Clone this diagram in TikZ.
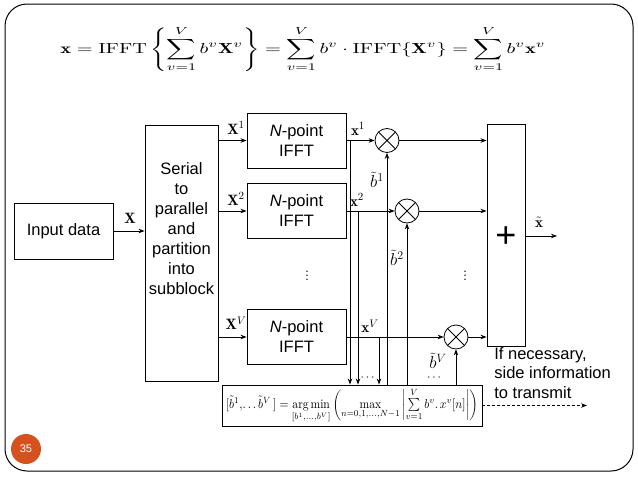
\documentclass[tikz,border=0pt]{standalone}
\usepackage{amsmath}
\usepackage{graphicx}
\usepackage{fontspec}
\setsansfont{Liberation Sans}
\usetikzlibrary{arrows.meta}
\definecolor{numorange}{HTML}{D5511D}
\begin{document}
\begin{tikzpicture}[x=1pt,y=-1pt, line width=0.8pt,
  >={Stealth[length=6pt,width=4.5pt]},
  blk/.style={draw, line width=0.9pt, inner sep=0pt},
  txt/.style={font=\sffamily\fontsize{16.5}{20}\selectfont, align=center, inner sep=0pt},
  mlab/.style={font=\fontsize{15}{18}\selectfont, inner sep=0pt},
  mult/.style={draw, circle, minimum size=24pt, inner sep=0pt,
    path picture={\draw (path picture bounding box.north west)--(path picture bounding box.south east)
      (path picture bounding box.south west)--(path picture bounding box.north east);}}]
\useasboundingbox (0,0) rectangle (638,479);
% slide frame
\draw[line width=1pt, rounded corners=22pt] (5,4) rectangle (633,471);
\node[circle, fill=numorange, minimum size=30pt, inner sep=0pt, text=white,
  font=\sffamily\fontsize{11}{13}\selectfont] (num) at (26,449) {35};
% equation
\node[inner sep=0pt] (eq) at (303,49) {\resizebox*{485pt}{45pt}{$\displaystyle
  \mathbf{x}=\mathrm{IFFT}\left\{\sum_{v=1}^{V} b^v\mathbf{X}^v\right\}
  =\sum_{v=1}^{V} b^v\cdot\mathrm{IFFT}\{\mathbf{X}^v\}
  =\sum_{v=1}^{V} b^v\mathbf{x}^v$}};
% blocks
\node[blk, minimum width=99pt, minimum height=56pt] (in) at (63.5,231) {};
\node[txt] (intext) at (in.center) {Input data};
\node[blk, minimum width=73pt, minimum height=256pt] (sp) at (181.5,253) {};
\node[txt] (sptext) at (181.5,228.5) {Serial\\to\\parallel\\and\\partition\\into\\subblock};
\node[blk, minimum width=99pt, minimum height=55pt, txt] (f1) at (296.5,140.5) {\textit{N}-point\\IFFT};
\node[blk, minimum width=99pt, minimum height=55pt, txt] (f2) at (296.5,211) {\textit{N}-point\\IFFT};
\node[blk, minimum width=99pt, minimum height=55pt, txt] (fV) at (296.5,337) {\textit{N}-point\\IFFT};
\node[mult] (m1) at (387,140.5) {};
\node[mult] (m2) at (407,211) {};
\node[mult] (mV) at (456,337) {};
\node[blk, minimum width=38pt, minimum height=222pt] (plus) at (506,235) {};
\node[font=\sffamily\fontsize{36}{36}\selectfont, inner sep=0pt] (plussign) at (506,237) {+};
\node[blk, minimum width=260pt, minimum height=41pt] (bot) at (352,405.5) {};
\node[inner sep=0pt] (botf) at (352,406) {\resizebox*{252pt}{35pt}{$[\tilde{b}^1,\!\ldots\tilde{b}^V\,] = \mathop{\arg\min}\limits_{[b^1,\ldots,b^V]}
  \left(\max\limits_{n=0,1,\ldots,N-1}\left|\sum\limits_{v=1}^{V} b^v.\,x^v[n]\right|\right)$}};
% input connections
\draw[->] (in.east) -- (in.east -| sp.west);
\node[mlab] (lX) at (130,218) {$\mathbf{X}$};
\draw[->] (sp.east |- f1.west) -- (f1.west);
\draw[->] (sp.east |- f2.west) -- (f2.west);
\draw[->] (sp.east |- fV.west) -- (fV.west);
\node[mlab] (lX1) at (236,128) {$\mathbf{X}^1$};
\node[mlab] (lX2) at (236,199) {$\mathbf{X}^2$};
\node[mlab] (lXV) at (236,323) {$\mathbf{X}^V$};
\node[font=\fontsize{18}{20}\selectfont, inner sep=0pt] (vd1) at (307,273) {$\vdots$};
% outputs to multipliers
\draw[->] (f1.east) -- (m1.west);
\draw[->] (f2.east) -- (m2.west);
\draw[->] (fV.east) -- (mV.west);
\node[mlab] (lx1) at (358,129) {$\mathbf{x}^1$};
\node[mlab] (lx2) at (357,200) {$\mathbf{x}^2$};
\node[mlab] (lxV) at (370,326) {$\mathbf{x}^V$};
% multipliers to adder
\draw[->] (m1.east) -- (m1.east -| plus.west);
\draw[->] (m2.east) -- (m2.east -| plus.west);
\draw[->] (mV.east) -- (mV.east -| plus.west);
\node[font=\fontsize{18}{20}\selectfont, inner sep=0pt] (vd2) at (465,273) {$\vdots$};
\coordinate (xo) at (557,236);
\draw[->] (plus.east |- xo) -- (xo);
\node[mlab] (lxt) at (539,222) {$\tilde{\mathbf{x}}$};
% taps down to optimizer
\coordinate (t1) at (350,140.5);
\coordinate (t2) at (358,211);
\coordinate (t3) at (379,337);
\draw[->] (t1) -- (t1 |- bot.north);
\draw[->] (t2) -- (t2 |- bot.north);
\draw[->] (t3) -- (t3 |- bot.north);
\node[inner sep=0pt, font=\fontsize{12}{12}\selectfont] (dots1) at (368.5,378) {$\cdots$};
\node[inner sep=0pt, font=\fontsize{12}{12}\selectfont] (dots2) at (435,378) {$\cdots$};
% weights up to multipliers
\draw[->] (m1.south |- bot.north) -- (m1.south);
\draw[->] (m2.south |- bot.north) -- (m2.south);
\draw[->] (mV.south |- bot.north) -- (mV.south);
\node[mlab, font=\fontsize{17}{18}\selectfont] (lb1) at (377,180) {$\tilde{b}^1$};
\node[mlab, font=\fontsize{17}{18}\selectfont] (lb2) at (397,258) {$\tilde{b}^2$};
\node[mlab, font=\fontsize{17}{18}\selectfont] (lbV) at (438,361) {$\tilde{b}^V$};
% side information
\coordinate (si) at (587,405.5);
\draw[->, densely dashed, line width=1.1pt] (bot.east) -- (si);
\node[txt, align=left, anchor=north west, font=\sffamily\fontsize{16.5}{19.5}\selectfont] (sitext) at (494,347) {If necessary,\\side information\\to transmit};
\end{tikzpicture}
\end{document}
